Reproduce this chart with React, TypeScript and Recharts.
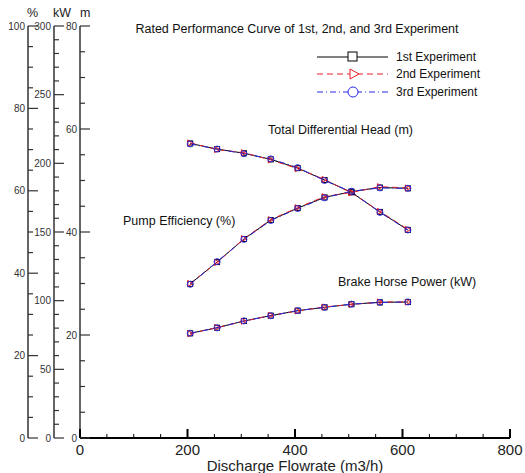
import { LineChart, Line, XAxis, YAxis } from 'recharts';

// discharge flowrate (m3/h)
const flow = [205, 255, 305, 355, 405, 455, 505, 558, 610];

// total differential head (m)
const head1 = [57.2, 56.1, 55.3, 54.1, 52.4, 50.1, 47.7, 43.9, 40.4];
const head2 = [57.3, 56.0, 55.4, 54.0, 52.3, 50.2, 47.6, 44.0, 40.5];
const head3 = [57.1, 56.1, 55.2, 54.2, 52.5, 50.0, 47.8, 43.8, 40.4];

// pump efficiency (%)
const eff1 = [37.4, 42.7, 48.3, 52.9, 55.8, 58.4, 59.8, 60.8, 60.6];
const eff2 = [37.5, 42.6, 48.4, 53.0, 55.9, 58.6, 59.6, 61.0, 60.7];
const eff3 = [37.3, 42.8, 48.2, 52.8, 55.7, 58.3, 59.9, 60.7, 60.6];

// brake horse power (kW)
const bhp1 = [76.2, 80.3, 85.2, 89.1, 92.7, 95.2, 97.4, 98.8, 99.0];
const bhp2 = [76.0, 80.5, 85.0, 89.3, 92.5, 95.4, 97.2, 99.1, 99.0];
const bhp3 = [76.3, 80.2, 85.3, 89.0, 92.8, 95.1, 97.5, 98.7, 99.1];

const xTicks = [0, 50, 100, 150, 200, 250, 300, 350, 400, 450, 500, 550, 600, 650, 700, 750, 800];
const pctTicks = [0, 5, 10, 15, 20, 25, 30, 35, 40, 45, 50, 55, 60, 65, 70, 75, 80, 85, 90, 95, 100];
const kwTicks = [0, 10, 20, 30, 40, 50, 60, 70, 80, 90, 100, 110, 120, 130, 140, 150, 160, 170, 180, 190, 200, 210, 220, 230, 240, 250, 260, 270, 280, 290, 300];
const mTicks = [0, 5, 10, 15, 20, 25, 30, 35, 40, 45, 50, 55, 60, 65, 70, 75, 80];

const rows = flow.map((f, i) => ({
    flow: f,
    h1: head1[i], h2: head2[i], h3: head3[i],
    e1: eff1[i], e2: eff2[i], e3: eff3[i],
    b1: bhp1[i], b2: bhp2[i], b3: bhp3[i],
}));

const FONT = '"Liberation Sans", Arial, sans-serif';
const AXIS = '#333';

// axis ids sort so that the head axis sits next to the plot, percent outermost
const M_AXIS = 'a-m';
const KW_AXIS = 'b-kw';
const PCT_AXIS = 'c-pct';

const yTick = (major: number) => (props: any) => {
    const { x, y, payload } = props;
    const v = payload.value;
    const isMajor = v % major === 0;
    return (
        <g>
            <line x1={x} x2={x + (isMajor ? 10 : 5)} y1={y} y2={y} stroke={AXIS} strokeWidth={1.2} />
            {isMajor && (
                <text x={x - 3} y={y} dy={3.5} textAnchor="end" fontSize={10} fill={AXIS} fontFamily={FONT}>
                    {v}
                </text>
            )}
        </g>
    );
};

const xTick = (props: any) => {
    const { x, y, payload } = props;
    const v = payload.value;
    const isMajor = v % 200 === 0;
    return (
        <g>
            <line x1={x} x2={x} y1={y} y2={y - (isMajor ? 9 : 4)} stroke="#000" strokeWidth={isMajor ? 2 : 1} />
            {isMajor && (
                <text x={x} y={y + 17} textAnchor="middle" fontSize={15} fill="#222" fontFamily={FONT}>
                    {v}
                </text>
            )}
        </g>
    );
};

const square = (p: any) => (
    <rect key={`sq-${p.dataKey}-${p.index}`} x={p.cx - 2.5} y={p.cy - 2.5} width={5} height={5} fill="none" stroke="#000" strokeWidth={1} />
);
const triangle = (p: any) => (
    <polygon key={`tr-${p.dataKey}-${p.index}`} points={`${p.cx - 2.5},${p.cy - 3} ${p.cx + 3},${p.cy} ${p.cx - 2.5},${p.cy + 3}`} fill="none" stroke="#e8202a" strokeWidth={1} />
);
const circle = (p: any) => (
    <circle key={`ci-${p.dataKey}-${p.index}`} cx={p.cx} cy={p.cy} r={3} fill="none" stroke="#2a2ae0" strokeWidth={1} />
);

const series = [
    { key: '1', color: '#000', dash: undefined, dot: square },
    { key: '2', color: '#e8202a', dash: '6 4', dot: triangle },
    { key: '3', color: '#2a2ae0', dash: '6 3 1 3', dot: circle },
];

const groups = [
    { prefix: 'h', axis: M_AXIS },
    { prefix: 'e', axis: PCT_AXIS },
    { prefix: 'b', axis: KW_AXIS },
];

const App = () => {
    return (
        <div style={{ position: 'absolute', left: 0, top: 0, width: 525, height: 473, background: '#fff' }}>
            <LineChart width={525} height={473} data={rows} margin={{ top: 26, right: 15, bottom: 0, left: 0 }}>
                <XAxis
                    dataKey="flow"
                    type="number"
                    domain={[0, 800]}
                    ticks={xTicks}
                    interval={0}
                    tickSize={0}
                    tickMargin={0}
                    tickLine={false}
                    tick={xTick}
                    height={35}
                    axisLine={{ stroke: '#000', strokeWidth: 2 }}
                />
                <YAxis yAxisId={M_AXIS} orientation="left" width={26} domain={[0, 80]} ticks={mTicks} interval={0}
                    tickSize={0} tickMargin={0} tickLine={false} tick={yTick(20)} axisLine={{ stroke: AXIS, strokeWidth: 1.5 }} />
                <YAxis yAxisId={KW_AXIS} orientation="left" width={26} domain={[0, 300]} ticks={kwTicks} interval={0}
                    tickSize={0} tickMargin={0} tickLine={false} tick={yTick(50)} axisLine={{ stroke: AXIS, strokeWidth: 1.5 }} />
                <YAxis yAxisId={PCT_AXIS} orientation="left" width={28} domain={[0, 100]} ticks={pctTicks} interval={0}
                    tickSize={0} tickMargin={0} tickLine={false} tick={yTick(20)} axisLine={{ stroke: AXIS, strokeWidth: 1.5 }} />
                {groups.map((g) =>
                    series.map((s) => (
                        <Line
                            key={g.prefix + s.key}
                            yAxisId={g.axis}
                            dataKey={g.prefix + s.key}
                            type="linear"
                            stroke={s.color}
                            strokeWidth={1}
                            strokeDasharray={s.dash}
                            dot={s.dot}
                            activeDot={false}
                            isAnimationActive={false}
                        />
                    ))
                )}
            </LineChart>
            <svg width={525} height={473} style={{ position: 'absolute', left: 0, top: 0, pointerEvents: 'none' }} fontFamily={FONT}>
                <text x={27} y={17} fontSize={12.5} fill="#222">%</text>
                <text x={53} y={17} fontSize={12.5} fill="#222">kW</text>
                <text x={80} y={17} fontSize={12.5} fill="#222">m</text>
                <text x={297} y={33} textAnchor="middle" fontSize={12.5} fill="#111">
                    Rated Performance Curve of 1st, 2nd, and 3rd Experiment
                </text>
                <line x1={317} x2={388} y1={57} y2={57} stroke="#000" strokeWidth={1} />
                <rect x={348} y={52} width={9} height={9} fill="#fff" stroke="#000" strokeWidth={1} />
                <text x={396} y={61} fontSize={12} fill="#111">1st Experiment</text>
                <line x1={317} x2={388} y1={74} y2={74} stroke="#e8202a" strokeWidth={1} strokeDasharray="6 4" />
                <polygon points="350,69 359,74 350,79" fill="#fff" stroke="#e8202a" strokeWidth={1} />
                <text x={396} y={78} fontSize={12} fill="#111">2nd Experiment</text>
                <line x1={317} x2={388} y1={92} y2={92} stroke="#2a2ae0" strokeWidth={1} strokeDasharray="6 3 1 3" />
                <circle cx={353} cy={92} r={5} fill="#fff" stroke="#2a2ae0" strokeWidth={1} />
                <text x={396} y={96} fontSize={12} fill="#111">3rd Experiment</text>
                <text x={268} y={134} fontSize={12.5} fill="#111">Total Differential Head (m)</text>
                <text x={123} y={225} fontSize={12.5} fill="#111">Pump Efficiency (%)</text>
                <text x={338} y={286} fontSize={12.5} fill="#111">Brake Horse Power (kW)</text>
                <text x={295} y={471} textAnchor="middle" fontSize={15} fill="#222">Discharge Flowrate (m3/h)</text>
            </svg>
        </div>
    );
};

export default App;
